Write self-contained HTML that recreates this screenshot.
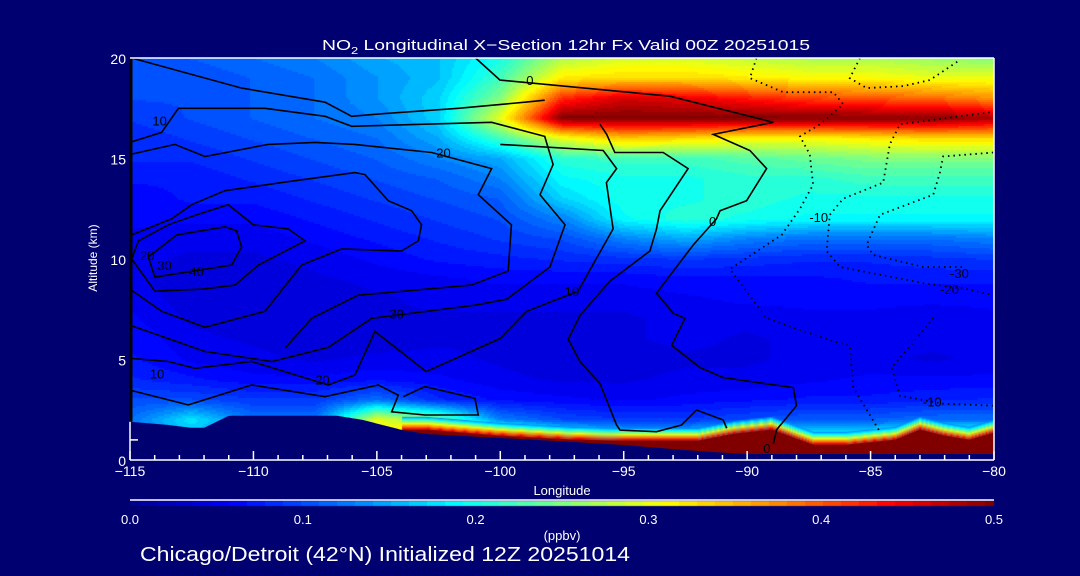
<!DOCTYPE html>
<html><head><meta charset="utf-8">
<style>
html,body{margin:0;padding:0;background:#000070;}
#wrap{position:relative;width:1080px;height:576px;background:#000070;overflow:hidden;font-family:"Liberation Sans",sans-serif;}
canvas,svg{position:absolute;left:0;top:0;}
</style></head>
<body>
<div id="wrap">
<canvas id="cv" width="1080" height="576"></canvas>
<svg id="sv" width="1080" height="576"></svg>
</div>
<script>
// ---- data ----
const lonNodes = [-115,-112.5,-110,-107.5,-105,-102.5,-100,-97.5,-95,-92.5,-90,-87.5,-85,-82.5,-80];
const altNodes = [20,19,18,17,16,15,14,13,12,11,10,9,8,7,6,5,4,3,2,1,0];
const no2Field = [
[.10,.11,.12,.13,.15,.16,.20,.27,.29,.29,.28,.27,.27,.26,.25],
[.10,.10,.11,.12,.14,.16,.22,.32,.33,.33,.32,.31,.31,.30,.30],
[.10,.10,.11,.12,.14,.17,.25,.42,.46,.45,.43,.41,.40,.39,.37],
[.09,.10,.11,.12,.13,.17,.30,.50,.50,.50,.50,.50,.50,.50,.48],
[.08,.09,.10,.11,.12,.15,.22,.30,.34,.33,.31,.31,.32,.33,.33],
[.08,.08,.09,.10,.11,.13,.15,.21,.22,.22,.23,.24,.25,.25,.25],
[.07,.07,.08,.09,.10,.11,.13,.19,.20,.20,.21,.21,.22,.22,.22],
[.06,.07,.07,.08,.09,.10,.11,.17,.20,.20,.21,.20,.20,.20,.20],
[.06,.06,.06,.07,.08,.09,.10,.13,.19,.21,.20,.19,.19,.19,.19],
[.055,.05,.05,.06,.07,.08,.09,.10,.13,.15,.13,.12,.12,.12,.13],
[.05,.045,.045,.05,.06,.07,.075,.08,.085,.09,.085,.08,.08,.085,.09],
[.05,.04,.04,.045,.05,.055,.06,.06,.06,.065,.065,.065,.07,.07,.07],
[.055,.04,.04,.04,.045,.05,.05,.05,.05,.055,.06,.06,.06,.06,.06],
[.06,.045,.04,.04,.045,.045,.045,.045,.045,.05,.05,.055,.055,.05,.055],
[.065,.05,.045,.04,.04,.045,.045,.04,.045,.05,.045,.05,.05,.05,.05],
[.07,.055,.05,.045,.05,.05,.045,.04,.04,.045,.045,.05,.05,.045,.05],
[.08,.07,.06,.06,.065,.06,.05,.045,.045,.05,.05,.055,.06,.06,.06],
[.10,.10,.09,.09,.12,.08,.065,.06,.055,.06,.065,.07,.07,.075,.08],
[.12,.18,.12,.12,.30,.25,.13,.10,.09,.09,.10,.11,.11,.12,.12],
[.12,.15,.12,.12,.30,.45,.35,.25,.20,.20,.22,.22,.22,.25,.25],
[.12,.15,.12,.12,.30,.50,.50,.50,.50,.50,.50,.50,.50,.50,.50]
];
const terrLon = [-115,-113.5,-112.5,-112,-111.5,-111,-107,-106.6,-105.6,-104,-103,-100,-97,-95,-92,-90,-80];
const terrAlt = [1.9,1.75,1.6,1.6,1.9,2.2,2.2,2.2,2.0,1.5,1.3,1.1,0.9,0.75,0.45,0.3,0.3];
const sfcLon = [-104,-103,-101,-100,-97,-95,-92,-90.5,-89,-88,-87.3,-86,-84,-83,-82,-81,-80];
const sfcTop = [1.5,1.5,1.3,1.2,1.0,0.95,0.95,1.3,1.5,1.05,0.75,0.75,1.0,1.5,1.2,1.0,1.35];
const xTicks = [-115,-110,-105,-100,-95,-90,-85,-80];
const yTicks = [0,5,10,15,20];
const cbTicks = ["0.0","0.1","0.2","0.3","0.4","0.5"];
const cbValues = [0,0.1,0.2,0.3,0.4,0.5];
// contours (lon, alt)
const contourSolid = [
[[-114.26,10.1],[-113.99,9.1],[-110.88,9.7],[-110.48,10.6],[-110.68,11.4],[-111.15,11.6],[-113.11,11.2],[-114.26,10.1]],
[[-114.93,10.0],[-113.99,8.4],[-112.03,8.5],[-110.75,8.7],[-109.8,9.7],[-107.91,10.9],[-108.59,11.5],[-110.0,11.7],[-111.02,12.7],[-112.3,12.2],[-113.45,11.7],[-114.66,10.9],[-114.93,10.0]],
[[-115,8.5],[-113.72,7.4],[-111.96,6.6],[-109.53,7.4],[-108.05,9.7],[-106.43,10.5],[-104.0,10.4],[-103.32,10.9],[-103.19,11.7],[-103.59,12.4],[-104.54,12.9],[-105.48,14.2],[-105.89,14.3],[-108.86,13.8],[-111.15,13.4],[-112.5,12.7],[-113.31,12.0],[-114.93,11.2]],
[[-114.93,20],[-110.48,18.5],[-107.1,17.8],[-106.02,17.1],[-105.08,17.2],[-101.7,17.5],[-99.0,17.8],[-98.2,17.9]],
[[-115,15.8],[-113.72,16.3],[-113.04,17.5],[-109.53,17.5],[-107.1,17.1],[-106.02,16.6],[-100.35,16.8],[-98.2,16.1],[-97.86,14.7],[-98.39,13.2],[-97.38,11.7],[-97.99,9.6],[-99.74,8.0],[-101.03,7.7],[-105.21,7.05],[-106.97,5.6],[-109.26,4.9],[-111.96,5.4],[-115,6.7]],
[[-115,15.2],[-113.18,15.7],[-111.96,15.1],[-109.4,15.7],[-107.5,15.8],[-105.89,15.7],[-102.78,15.3],[-100.35,14.5],[-100.89,13.2],[-99.55,11.7],[-99.68,9.4],[-101.17,8.7],[-105.76,8.2],[-107.64,7.05],[-108.72,5.56]],
[[-100,15.7],[-95.83,15.4],[-95.29,14.5],[-95.7,13.8],[-95.43,11.5],[-96.85,8.4],[-98.93,7.4],[-100,6.05],[-103,4.4],[-105.08,6.4],[-105.89,4.23],[-106.97,3.73],[-110.07,4.9],[-112.37,4.56],[-113.45,4.9],[-115,5.06]],
[[-115,3.48],[-112.64,2.74],[-110.07,3.73],[-107.1,3.15],[-104.94,3.73],[-104.13,3.23],[-104.4,2.4],[-103.05,2.24],[-100.89,2.24],[-101.03,3.07],[-103.05,3.65],[-103.93,3.15]],
[[-101.0,20],[-100.01,18.9],[-93.13,18.1],[-88.94,16.8],[-91.37,16.2],[-89.89,15.4],[-89.21,14.5],[-90.02,12.9],[-91.1,12.4],[-91.24,12.0],[-92.18,10.7],[-93.67,8.3],[-92.99,7.3],[-92.52,7.05],[-93.06,5.7],[-91.91,4.6],[-90.97,4.1],[-88.13,3.6],[-88.0,2.7],[-88.81,1.5],[-88.94,0.8]],
[[-95.96,16.7],[-95.69,16.2],[-95.36,15.3],[-93.4,15.3],[-92.39,14.5],[-93.53,12.4],[-93.67,11.5],[-93.94,10.4],[-95.56,8.9],[-96.77,7.2],[-97.25,6.0],[-96.77,4.9],[-95.96,3.8],[-95.29,1.74],[-95.15,1.49],[-93.67,1.41],[-92.66,1.74],[-92.05,2.49],[-90.97,1.99],[-90.83,1.58]]
];
const contourDotted = [
[[-89.62,20],[-89.89,19.0],[-88.54,18.3],[-86.51,18.3],[-86.11,17.7],[-87.05,16.7],[-87.86,16.1],[-87.46,15.2],[-87.33,13.7],[-87.86,12.5],[-88.6,11.2],[-90.7,9.5],[-89.21,7.05],[-86.51,5.9],[-85.84,5.7],[-85.7,3.6],[-84.62,1.4]],
[[-85.43,20],[-85.84,19.0],[-85.16,18.5],[-83.68,18.6],[-82.6,18.9],[-81.38,19.9]],
[[-80.17,17.3],[-83.81,16.7],[-84.22,15.7],[-84.49,13.8],[-86.11,13.0],[-86.65,12.2],[-86.78,10.4],[-86.24,9.6],[-82.87,8.8],[-81.11,8.5],[-80.03,8.2]],
[[-80.03,15.3],[-82.06,15.1],[-82.19,14.3],[-82.46,13.2],[-84.62,12.2],[-85.16,10.7],[-84.89,10.2],[-82.87,9.6],[-81.25,9.6]],
[[-80.03,2.7],[-82.06,2.8],[-83.81,3.2],[-84.15,4.6],[-83.14,6.05],[-82.46,7.05]]
];
const contourLabels = [["0",-98.8,18.9],["0",-91.4,11.9],["10",-113.8,16.9],["10",-97.1,8.4],["10",-113.9,4.3],["20",-114.3,10.2],["20",-102.3,15.3],["20",-107.2,4.0],["30",-113.6,9.7],["30",-104.2,7.3],["40",-112.3,9.4],["-10",-87.1,12.1],["-10",-82.5,2.9],["-20",-81.8,8.5],["-30",-81.4,9.3],["0",-89.2,0.6]];

// ---- axes ----
const X0=130, X1=994, Yb=460, Yt=58;
const xs = lon => X0 + (lon+115)/35*(X1-X0);
const ys = alt => Yb - alt/20*(Yb-Yt);
const cbx = v => 130 + v/0.5*(994-130);

const cmStops=[[0,[0,0,143]],[0.06,[0,0,255]],[0.13,[0,128,255]],[0.19,[0,255,255]],[0.25,[128,255,128]],[0.31,[255,255,0]],[0.38,[255,128,0]],[0.44,[255,0,0]],[0.5,[128,0,0]]];
function cmap(v){
  v=Math.max(0,Math.min(0.5,v));
  v=Math.round(v/0.5*48)/48*0.5;
  for(let i=1;i<cmStops.length;i++){
    if(v<=cmStops[i][0]){
      const a=cmStops[i-1],b=cmStops[i],t=(v-a[0])/(b[0]-a[0]);
      return a[1].map((c,k)=>Math.round(c+(b[1][k]-c)*t));
    }
  }
  return cmStops[cmStops.length-1][1];
}
function interp1(xa,ya,x){
  if(x<=xa[0])return ya[0];
  for(let i=1;i<xa.length;i++) if(x<=xa[i]){const t=(x-xa[i-1])/(xa[i]-xa[i-1]);return ya[i-1]+(ya[i]-ya[i-1])*t;}
  return ya[ya.length-1];
}
function field(lon,alt){
  let fi=(lon+115)/2.5; fi=Math.max(0,Math.min(lonNodes.length-1.0001,fi));
  let fj=(20-alt); fj=Math.max(0,Math.min(altNodes.length-1.0001,fj));
  const i=Math.floor(fi),j=Math.floor(fj),tx=fi-i,ty=fj-j;
  const a=no2Field[j][i],b=no2Field[j][i+1],c=no2Field[j+1][i],d=no2Field[j+1][i+1];
  return (a*(1-tx)+b*tx)*(1-ty)+(c*(1-tx)+d*tx)*ty;
}
const cv=document.getElementById('cv'),ctx=cv.getContext('2d');
for(let px=X0;px<X1;px+=2){
  const lon=-115+(px+1-X0)/(X1-X0)*35;
  for(let py=Yt;py<Yb;py+=2){
    const alt=(Yb-(py+1))/(Yb-Yt)*20;
    const c=cmap(field(lon,alt));
    ctx.fillStyle=`rgb(${c[0]},${c[1]},${c[2]})`;
    ctx.fillRect(px,py,2,2);
  }
}
// surface layer
for(let px=X0;px<X1;px++){
  const lon=-115+(px+0.5-X0)/(X1-X0)*35;
  if(lon<sfcLon[0])continue;
  const top=interp1(sfcLon,sfcTop,lon);
  const yTop=ys(top);
  for(let k=0;k<14;k++){
    const v=0.5-k*0.028;
    const c=cmap(v);
    ctx.fillStyle=`rgb(${c[0]},${c[1]},${c[2]})`;
    ctx.fillRect(px,yTop-k,1,1);
  }
  ctx.fillStyle='rgb(128,0,0)';
  ctx.fillRect(px,yTop,1,Yb-yTop);
}
// colorbar
for(let px=130;px<994;px++){
  const c=cmap((px-130)/864*0.5+0.0003);
  ctx.fillStyle=`rgb(${c[0]},${c[1]},${c[2]})`;
  ctx.fillRect(px,501,1,5);
}

// ---- SVG overlay ----
const NS='http://www.w3.org/2000/svg';
const sv=document.getElementById('sv');
function mk(tag,attrs,parent){const e=document.createElementNS(NS,tag);for(const k in attrs)e.setAttribute(k,attrs[k]);(parent||sv).appendChild(e);return e;}

// terrain
let d=`M${X0},${Yb} `;
for(let px=X0;px<=X1;px+=2){const lon=-115+(px-X0)/(X1-X0)*35;const a=interp1(terrLon,terrAlt,lon);
  const top=lon>=sfcLon[0]?Math.min(a,interp1(sfcLon,sfcTop,lon)):a; d+=`L${px},${ys(top).toFixed(1)} `;}
d+=`L${X1},${Yb} Z`;
const terr=mk('path',{d:d,fill:'#000070'});


// redraw surface layer over terrain via path (dark red between terrain and sfcTop)
let d2='';
const up=[],dn=[];
for(let px=Math.ceil(xs(sfcLon[0]));px<=X1;px+=2){const lon=-115+(px-X0)/(X1-X0)*35;
  up.push(`${px},${ys(interp1(sfcLon,sfcTop,lon)).toFixed(1)}`);dn.push(`${px},${ys(interp1(terrLon,terrAlt,lon)).toFixed(1)}`);}
d2='M'+up.join(' L')+' L'+dn.reverse().join(' L')+' Z';
const sfc=mk('path',{d:d2,fill:'#800000'});



// contours
const cg=mk('g',{fill:'none',stroke:'#000','stroke-width':'1.6'});


contourSolid.forEach(line=>{
  const p=mk('polyline',{points:line.map(q=>xs(q[0]).toFixed(1)+','+ys(q[1]).toFixed(1)).join(' ')},cg);
  
  
});
contourDotted.forEach(line=>{
  const p=mk('polyline',{points:line.map(q=>xs(q[0]).toFixed(1)+','+ys(q[1]).toFixed(1)).join(' '),'stroke-dasharray':'1.5 4','stroke-width':'1.8'},cg);
  
  
});
contourLabels.forEach(l=>{
  const t=mk('text',{x:xs(l[1]),y:ys(l[2])+5,fill:'#000','font-size':'13','text-anchor':'middle','font-family':'Liberation Sans, sans-serif'});
  t.textContent=l[0];
  
  
});
// left black edge
const le=mk('line',{x1:X0+1,y1:Yt,x2:X0+1,y2:ys(1.9),stroke:'#000','stroke-width':'3'});



// frame
const fr=mk('g',{stroke:'#fff','stroke-width':'1.5',fill:'none'});


mk('line',{x1:X0,y1:Yt,x2:X1,y2:Yt},fr);
mk('line',{x1:X1,y1:Yt,x2:X1,y2:Yb},fr);
mk('line',{x1:X0,y1:Yb,x2:X1,y2:Yb},fr);
mk('line',{x1:X0,y1:ys(1.9),x2:X0,y2:Yb},fr);
mk('line',{x1:X0,y1:ys(1),x2:X0+8,y2:ys(1)},fr);
for(let lon=-115;lon<=-80;lon++){
  const major=(lon%5===0);
  const tk=mk('line',{x1:xs(lon),y1:Yb,x2:xs(lon),y2:Yb-(major?9:5)},fr);
  
  
}
xTicks.forEach(v=>{
  const t=mk('text',{x:xs(v),y:476,fill:'#fff','font-size':'14','text-anchor':'middle'});
  t.textContent=(v<0?'\u2212':'')+Math.abs(v);
  
  
});
yTicks.forEach(v=>{
  const t=mk('text',{x:126,y:ys(v)+6,fill:'#fff','font-size':'14','text-anchor':'end'});
  t.textContent=v;
  
  
});
// colorbar frame line and labels
const cbl=mk('line',{x1:130,y1:500,x2:994,y2:500,stroke:'#fff','stroke-width':'1.5'});


cbTicks.forEach((s,i)=>{
  const t=mk('text',{x:cbx(cbValues[i]),y:524,fill:'#fff','font-size':'13','text-anchor':'middle'});
  t.textContent=s;
  
  
});
</script>
<svg width="1080" height="576" style="position:absolute;left:0;top:0">
<text x="322" y="50" fill="#fff" font-size="15" font-family="Liberation Sans, sans-serif" textLength="488" lengthAdjust="spacingAndGlyphs">NO<tspan font-size="10" dy="4">2</tspan><tspan dy="-4"> Longitudinal X−Section 12hr  Fx Valid 00Z 20251015</tspan></text>
<text x="562" y="495" fill="#fff" font-size="13" text-anchor="middle" font-family="Liberation Sans, sans-serif">Longitude</text>
<text x="97" y="258" fill="#fff" font-size="12" text-anchor="middle" transform="rotate(-90 97 258)" font-family="Liberation Sans, sans-serif">Altitude (km)</text>
<text x="562" y="540" fill="#fff" font-size="13" text-anchor="middle" font-family="Liberation Sans, sans-serif">(ppbv)</text>
<text x="140" y="561" fill="#fff" font-size="20" font-family="Liberation Sans, sans-serif" textLength="490" lengthAdjust="spacingAndGlyphs">Chicago/Detroit (42°N) Initialized 12Z 20251014</text>
</svg>
</body></html>
